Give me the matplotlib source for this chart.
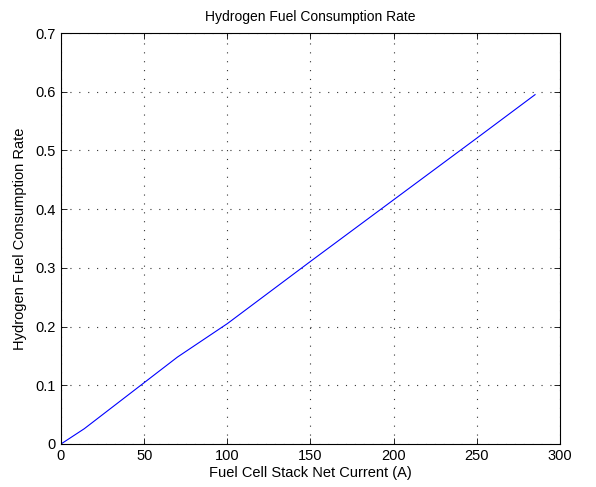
import matplotlib
matplotlib.use('Agg')
import matplotlib.pyplot as plt

# corriente neta de la pila (A) y consumo de hidrogeno
corriente = [0, 14, 70, 100, 150, 200, 250, 285]
consumo = [0, 0.026, 0.148, 0.205, 0.311, 0.416, 0.521, 0.595]

plt.rcParams['font.family'] = ['Liberation Sans', 'DejaVu Sans']
plt.rcParams['font.size'] = 10.5

fig = plt.figure(figsize=(5.96, 4.87), dpi=100)
ax = fig.add_axes([0.1023, 0.0883, 0.8373, 0.8439])

ax.plot(corriente, consumo, color='blue', linewidth=0.8)

ax.set_xlim(0, 300)
ax.set_ylim(0, 0.7)
ax.set_xticks([0, 50, 100, 150, 200, 250, 300])
ax.set_yticks([0, 0.1, 0.2, 0.3, 0.4, 0.5, 0.6, 0.7])
ax.set_yticklabels(['0', '0.1', '0.2', '0.3', '0.4', '0.5', '0.6', '0.7'])
ax.grid(True, linestyle=(0, (1, 7)), color='#333333', linewidth=0.8)
ax.tick_params(direction='in', length=4, top=True, right=True, width=0.6)
for s in ax.spines.values():
    s.set_linewidth(0.8)

ax.set_xlabel('Fuel Cell Stack Net Current (A)', labelpad=2)
ax.set_ylabel('Hydrogen Fuel Consumption Rate', labelpad=6)
ax.set_title('Hydrogen Fuel Consumption Rate', fontsize=10, pad=9)

fig.savefig('out.png', dpi=100)
